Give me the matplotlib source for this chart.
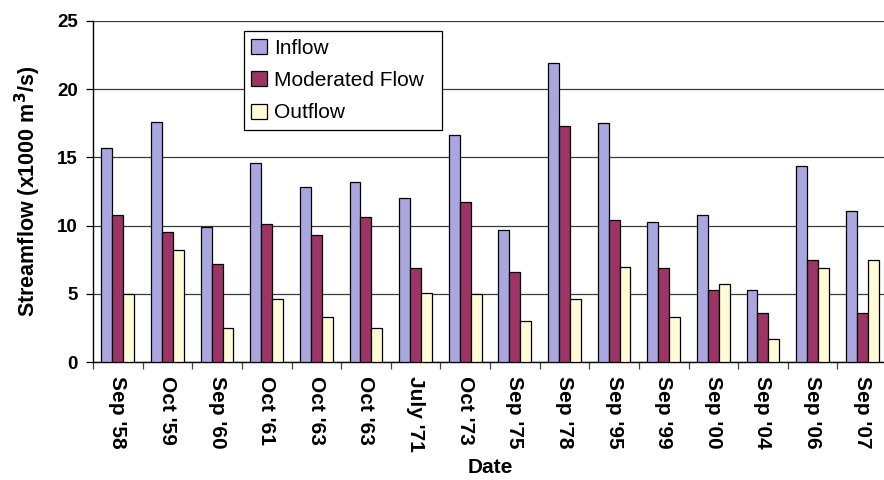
import numpy as np
import matplotlib
matplotlib.use("Agg")
import matplotlib.pyplot as plt
from matplotlib.ticker import FixedLocator, NullFormatter

plt.rcParams['font.family'] = ['Liberation Sans', 'DejaVu Sans']

dates = ["Sep '58", "Oct '59", "Sep '60", "Oct '61", "Oct '63", "Oct '63", "July '71", "Oct '73",
         "Sep '75", "Sep '78", "Sep '95", "Sep '99", "Sep '00", "Sep '04", "Sep '06", "Sep '07"]
inflow = [15.7, 17.6, 9.9, 14.6, 12.8, 13.2, 12.0, 16.6, 9.7, 21.9, 17.5, 10.3, 10.8, 5.3, 14.4, 11.1]
moderated = [10.8, 9.5, 7.2, 10.1, 9.3, 10.6, 6.9, 11.7, 6.6, 17.3, 10.4, 6.9, 5.3, 3.6, 7.5, 3.6]
outflow = [5.0, 8.2, 2.5, 4.6, 3.3, 2.5, 5.1, 5.0, 3.0, 4.6, 7.0, 3.3, 5.7, 1.7, 6.9, 7.5]

series = [("Inflow", inflow, "#aaa6e0"),
          ("Moderated Flow", moderated, "#9c3466"),
          ("Outflow", outflow, "#fffbd6")]

fig = plt.figure(figsize=(8.84, 4.80), dpi=100)
ax = fig.add_axes([93/884, 117.7/480, 794/884, 341.6/480])

x = np.arange(len(dates))
w = 0.22
for i, (name, vals, col) in enumerate(series):
    ax.bar(x + (i - 1) * w, vals, w, color=col, edgecolor="black", linewidth=0.9,
           label=name, zorder=3)

ax.set_xlim(-0.5, len(dates) - 0.5)
ax.set_ylim(0, 25)
ax.set_yticks(np.arange(0, 26, 5))
ax.yaxis.grid(True, color="#3a3a3a", linewidth=0.9, zorder=0)
ax.set_axisbelow(True)

# category boundaries carry the tick marks, labels sit at the centres
ax.xaxis.set_major_locator(FixedLocator(np.arange(-0.5, len(dates), 1.0)))
ax.xaxis.set_major_formatter(NullFormatter())
ax.xaxis.set_minor_locator(FixedLocator(x))
ax.set_xticklabels(dates, minor=True, rotation=-90, fontsize=15, fontweight="bold")
ax.tick_params(axis="x", which="minor", length=0, pad=10)
ax.tick_params(axis="x", which="major", length=5, width=0.9, color="#444444")
ax.tick_params(axis="y", length=5, width=0.9, labelsize=13.5, pad=6)
for t in ax.get_yticklabels():
    t.set_fontweight("bold")

for s in ["top", "right"]:
    ax.spines[s].set_visible(False)
ax.spines["left"].set_linewidth(1.0)
ax.spines["bottom"].set_linewidth(1.0)

ax.set_ylabel("Streamflow (x1000 m$^\\mathbf{3}$/s)", fontsize=15.5, fontweight="bold", labelpad=10)
ax.set_xlabel("Date", fontsize=15, fontweight="bold", labelpad=4)

# legend box stretched to a fixed width
leg = ax.legend(loc="upper left", bbox_to_anchor=(0.19, 0.969, 0.2493, 0.0),
                mode="expand", borderaxespad=0,
                fancybox=False, framealpha=1, edgecolor="black", fontsize=15,
                handlelength=0.75, handleheight=0.75, handletextpad=0.35,
                labelspacing=0.64, borderpad=0.36)
leg.get_frame().set_linewidth(0.9)
leg.set_zorder(5)

fig.savefig("out.png", dpi=100)
